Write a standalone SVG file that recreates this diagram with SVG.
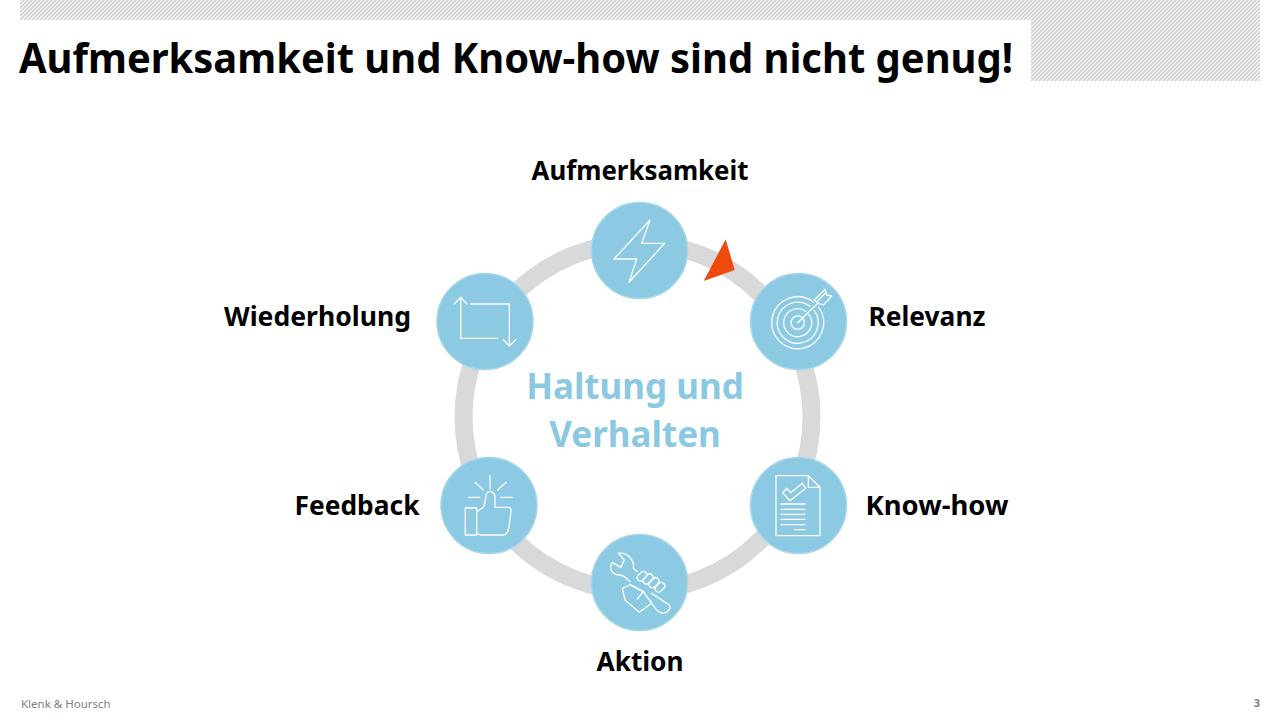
<svg xmlns="http://www.w3.org/2000/svg" width="1280" height="720" viewBox="0 0 1280 720">
<style>
text{font-family:"Noto Sans","Open Sans",sans-serif}
.t{font-size:42px;font-weight:700;fill:#000}
.l{font-size:26.500px;font-weight:700;fill:#000;text-anchor:middle}
.c{font-size:35px;font-weight:700;fill:#8bc9e2;text-anchor:middle}
.n{fill:#8bcae2;stroke:#a5d6e9;stroke-width:1.5}
.i{fill:none;stroke:#fff;stroke-width:1.3;stroke-linejoin:round;stroke-linecap:round}
</style>
<defs>
<pattern id="h" width="4" height="4" patternUnits="userSpaceOnUse">
<rect width="4" height="4" fill="#fff"/>
<path d="M-1 1L1 -1M0 4L4 0M3 5L5 3" stroke="#cfcfcf" stroke-width="1.6"/>
</pattern>
</defs>
<rect width="1280" height="720" fill="#fff"/>
<g id="hatch">
<path d="M20 0H1260V81H1031V20H20Z" fill="url(#h)"/>
</g>
<text id="title" class="t" x="19" y="72.500" textLength="994" lengthAdjust="spacingAndGlyphs">Aufmerksamkeit und Know-how sind nicht genug!</text>
<g id="connectors">
<circle cx="637.500" cy="417" r="174" fill="none" stroke="#d9d9d9" stroke-width="18"/>
<path id="pointer" d="M725.700 239.300L734.700 270L703.700 281Z" fill="#ee4a10"/>
</g>
<text id="center" class="c"><tspan x="635" y="399">Haltung und</tspan><tspan x="635" y="447">Verhalten</tspan></text>
<g id="node-aufmerksamkeit">
<circle class="n" cx="639.500" cy="250.500" r="48"/>
<path class="i" d="M650 220L641.700 243.300H664.700L629 282.300L636.700 259H614Z"/>
<text class="l" x="640" y="180" textLength="217" lengthAdjust="spacingAndGlyphs">Aufmerksamkeit</text>
</g>
<g id="node-relevanz">
<circle class="n" cx="798.500" cy="321.500" r="48"/>
<path class="i" d="M813.300 301.900A26 26 0 1 0 818.500 307.100M810 306.300A20.500 20.500 0 1 0 814.100 310.400M806.100 311.500A14 14 0 1 0 808.900 314.300M801.700 317.300A6.700 6.700 0 1 0 803.100 318.700M797.700 322.700L818 303"/>
<path class="i" d="M814.300 300L825 289.300L826.700 295L831.700 296L823.300 305L818.300 303.300ZM816.700 301.700L825.300 293.300"/>
<text class="l" x="927" y="326" textLength="117" lengthAdjust="spacingAndGlyphs">Relevanz</text>
</g>
<g id="node-knowhow">
<circle class="n" cx="798.500" cy="505.500" r="48"/>
<path class="i" d="M776 475.700H808.300L820 487.300V535.700H776ZM808.300 475.700V487.300H820M782.700 492.700L790 500.700L805.700 488.300L802.300 483.300L790.700 492.700L786.700 488.300ZM781 504H805M781 509.300H805M781 514.300H805M781 519.300H805M781 524.700H805M794.300 529.700H805"/>
<text class="l" x="937" y="515" textLength="143" lengthAdjust="spacingAndGlyphs">Know-how</text>
</g>
<g id="node-aktion">
<circle class="n" cx="639.500" cy="582.500" r="48"/>
<g transform="translate(580 525) scale(.3333)" fill="none" stroke="#fff" stroke-width="4" stroke-linejoin="round" stroke-linecap="round">
<path d="M115 85L133 105L122 127L97 112C85 130 95 150 120 150C130 150 140 160 150 170M115 85C140 80 165 105 160 130L172 140M215 205L268 240C275 255 255 270 240 262C228 258 222 245 210 225"/>
<path d="M127 190L150 180L190 200L215 235L178 262L135 225Z"/>
<path d="M150 178L190 200L172 222"/>
<rect x="170" y="144" width="32" height="20" rx="10" transform="rotate(-45 186 154)"/>
<rect x="187" y="152" width="34" height="20" rx="10" transform="rotate(-45 204 162)"/>
<rect x="205" y="163" width="34" height="20" rx="10" transform="rotate(-45 222 173)"/>
<rect x="224" y="177" width="32" height="20" rx="10" transform="rotate(-45 240 187)"/>
</g>
<text class="l" x="640" y="671" textLength="87" lengthAdjust="spacingAndGlyphs">Aktion</text>
</g>
<g id="node-feedback">
<circle class="n" cx="489" cy="505.500" r="48"/>
<path class="i" d="M490 475.700V489M475 482.300L483.300 490M506 482.300L497.700 490M468.300 497.300H480M500.700 497.300H512.300M465.300 508H476.700V535H465.300ZM476.700 511.700L483.300 507.300C486 503 485 497 486.700 493.300C488 490.500 494 491 495 496V507.300H507.300C510 507.300 511.500 508.500 511 511L509.500 523C509 528 508.300 535 503.300 535H481.700C479 535 477.700 534 477 533"/>
<text class="l" x="357" y="515" textLength="125" lengthAdjust="spacingAndGlyphs">Feedback</text>
</g>
<g id="node-wiederholung">
<circle class="n" cx="485" cy="321.500" r="48"/>
<path class="i" d="M454.300 304L460.700 297.300L467 304M460.700 297.300V338.300H497.300M470.700 304H509.300V346M503.300 339.700L509.300 346L515.700 339.700"/>
<text class="l" x="317.500" y="326" textLength="187" lengthAdjust="spacingAndGlyphs">Wiederholung</text>
</g>
<text id="footer" x="21" y="708" font-size="11.500" fill="#7f7f7f">Klenk &amp; Hoursch</text>
<text id="page" x="1260" y="707" font-size="11" font-weight="700" fill="#7f7f7f" text-anchor="end">3</text>
</svg>
